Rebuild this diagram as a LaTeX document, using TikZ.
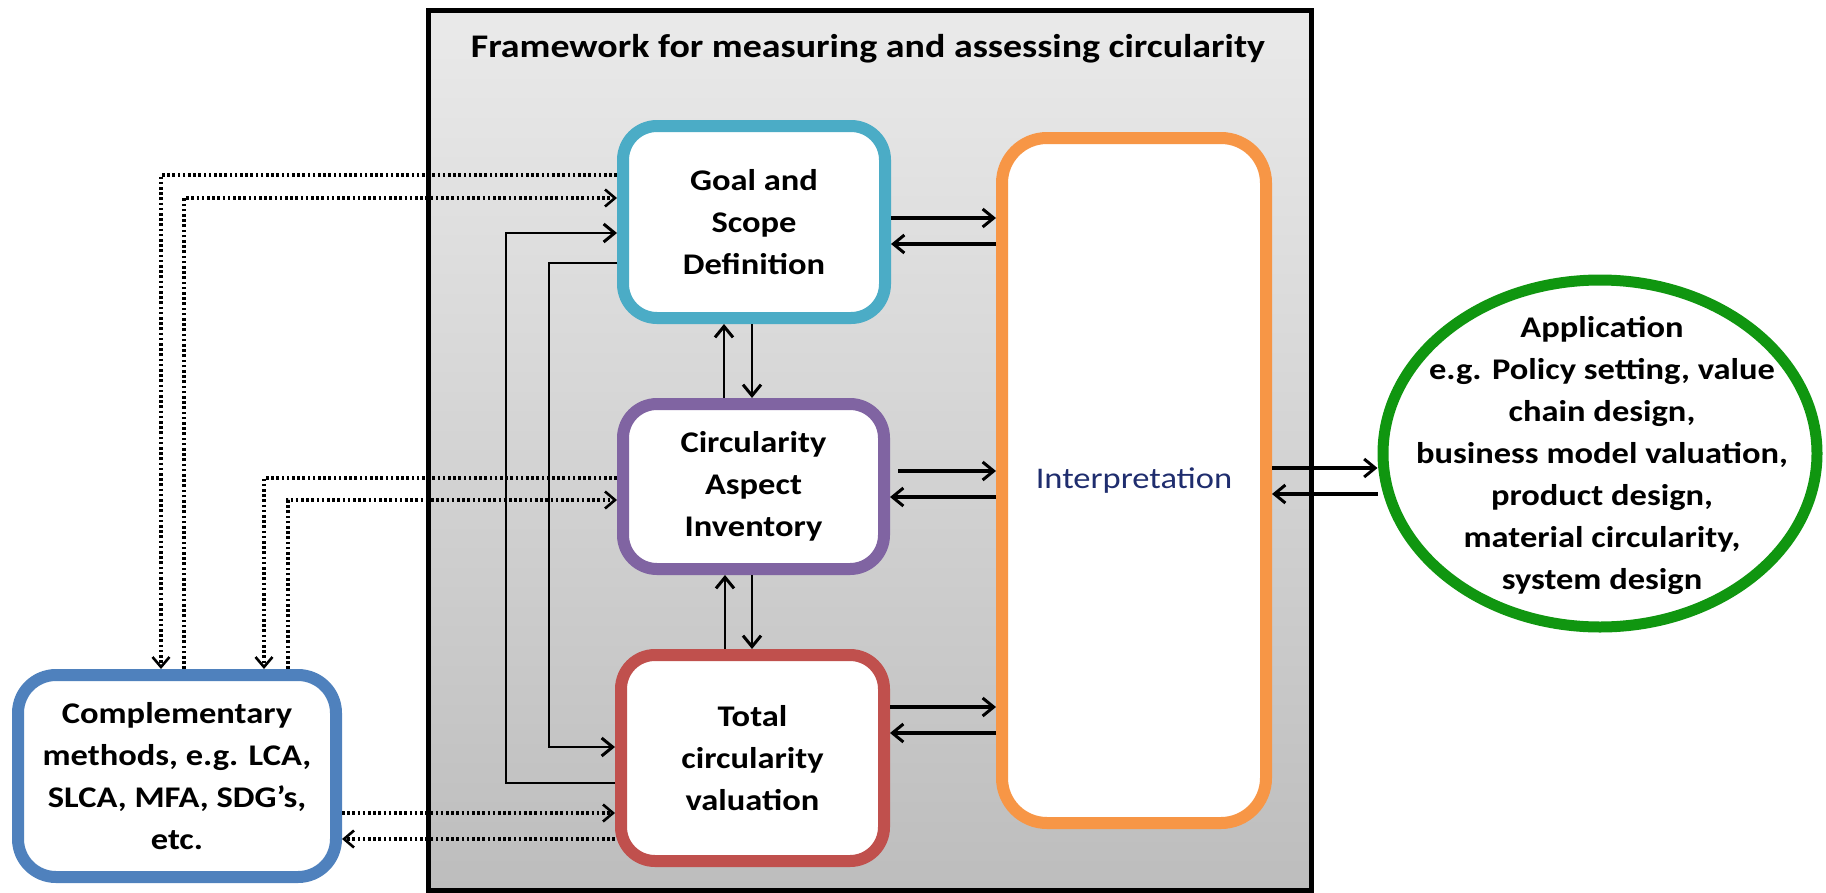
\documentclass[tikz,border=0pt]{standalone}
\usepackage{fontspec}
\setmainfont{Carlito}[FakeStretch=1.15]
\usetikzlibrary{arrows.meta,shapes.geometric,calc}
\definecolor{goalc}{RGB}{75,172,198}
\definecolor{caic}{RGB}{128,100,162}
\definecolor{tcvc}{RGB}{192,80,77}
\definecolor{intc}{RGB}{247,150,70}
\definecolor{compc}{RGB}{79,129,189}
\definecolor{appc}{RGB}{16,150,16}
\definecolor{navy}{RGB}{31,45,110}
\definecolor{bgtop}{RGB}{234,234,234}
\definecolor{bgbot}{RGB}{189,189,189}
\begin{document}
\begin{tikzpicture}[x=1pt,y=-1pt,
  box/.style={draw, fill=white, line width=12pt, rounded corners=34pt, align=center, inner sep=0pt, font=\fontsize{30}{42}\selectfont\bfseries},
  tip/.style={-{Straight Barb[length=11pt,width=18pt,line width=3pt]}},
  harrow/.style={line width=3.5pt, tip},
  varrow/.style={line width=2.5pt, tip},
  longarrow/.style={line width=2.8pt, tip},
  dotarrow/.style={line width=3.2pt, dash pattern=on 2.6pt off 2.6pt, -{Straight Barb[length=10pt,width=17pt,line width=2.6pt]}}
]
\useasboundingbox (0,0) rectangle (1826,892);
\shade[top color=bgtop, bottom color=bgbot, draw=black, line width=5pt] (428,10) rectangle (1311,890);
\node[font=\fontsize{33}{40}\selectfont\bfseries] (title) at (868,49) {Framework for measuring and assessing circularity};

\node[box, draw=goalc, minimum width=262pt, minimum height=192pt] (goal) at (754,222) {Goal and\\Scope\\Definition};
\node[box, draw=caic, minimum width=261pt, minimum height=165pt] (cai) at (753.5,486.5) {Circularity\\Aspect\\Inventory};
\node[box, draw=tcvc, minimum width=263pt, minimum height=206pt] (tcv) at (752.5,758) {Total\\circularity\\valuation};
\node[box, draw=intc, rounded corners=45pt, minimum width=264pt, minimum height=685pt, text=navy, font=\fontsize{30}{42}\selectfont] (interp) at (1134,480.5) {Interpretation};
\node[box, draw=compc, rounded corners=38pt, minimum width=318pt, minimum height=202pt] (comp) at (177,776) {Complementary\\methods, e.g. LCA,\\SLCA, MFA, SDG’s,\\etc.};
\node[ellipse, draw=appc, fill=white, line width=11pt, inner sep=0pt, minimum width=434pt, minimum height=347pt] (app) at (1600,453.5) {};
\node[align=center, inner sep=0pt, font=\fontsize{30}{42}\selectfont\bfseries] (apptxt) at (1602,455) {Application\\e.g. Policy setting, value\\chain design,\\business model valuation,\\product design,\\material circularity,\\system design};

% dotted links with complementary methods
\draw[dotarrow] (goal.west |- 0,175) -| (161,0 |- comp.north);
\draw[dotarrow] (184,0 |- comp.north) |- (goal.west |- 0,198);
\draw[dotarrow] (cai.west |- 0,478) -| (264,0 |- comp.north);
\draw[dotarrow] (288,0 |- comp.north) |- (cai.west |- 0,500);
\draw[dotarrow] (comp.east |- 0,813) -- (tcv.west |- 0,813);
\draw[dotarrow] (tcv.west |- 0,839) -- (comp.east |- 0,839);

% long solid loops
\draw[longarrow] (tcv.west |- 0,783) -| (506,233) -- (goal.west |- 0,233);
\draw[longarrow] (goal.west |- 0,263) -| (549,747) -- (tcv.west |- 0,747);

% vertical arrows
\draw[varrow] (724,0 |- cai.north) -- (724,0 |- goal.south);
\draw[varrow] (752,0 |- goal.south) -- (752,0 |- cai.north);
\draw[varrow] (725,0 |- tcv.north) -- (725,0 |- cai.south);
\draw[varrow] (752,0 |- cai.south) -- (752,0 |- tcv.north);

% horizontal arrows to interpretation
\draw[harrow] (goal.east |- 0,218) -- (interp.west |- 0,218);
\draw[harrow] (interp.west |- 0,244) -- (goal.east |- 0,244);
\draw[harrow, shorten <=8pt] (cai.east |- 0,471) -- (interp.west |- 0,471);
\draw[harrow] (interp.west |- 0,497) -- (cai.east |- 0,497);
\draw[harrow] (tcv.east |- 0,707) -- (interp.west |- 0,707);
\draw[harrow] (interp.west |- 0,733) -- (tcv.east |- 0,733);
\draw[harrow] (interp.east |- 0,468) -- (app.west |- 0,468);
\draw[harrow] (app.west |- 0,494) -- (interp.east |- 0,494);
\end{tikzpicture}
\end{document}
